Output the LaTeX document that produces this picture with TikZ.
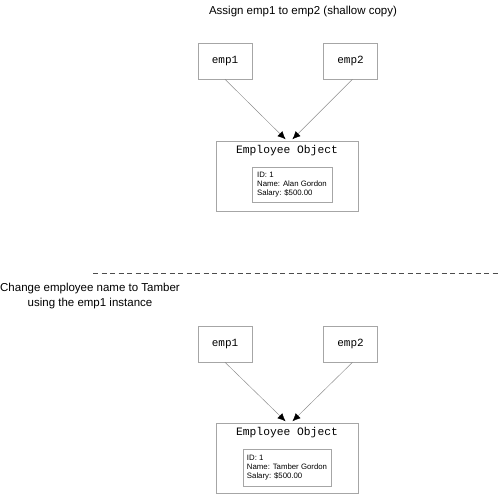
\documentclass[tikz,border=0pt]{standalone}
\usepackage{fontspec}
\setmainfont{Liberation Sans}
\newfontfamily\monof{Liberation Mono}
\usetikzlibrary{arrows.meta}
\begin{document}
\begin{tikzpicture}[x=1pt,y=-1pt,
  varbox/.style={draw=black!35, line width=0.6pt, minimum width=54pt, minimum height=36pt, inner sep=0pt, font=\monof\fontsize{11}{13}\selectfont},
  objbox/.style={draw=black!35, line width=0.6pt, minimum width=142pt, minimum height=70pt, inner sep=0pt},
  databox/.style={draw=black!35, line width=0.6pt, align=left, inner sep=4pt, font=\fontsize{7.8}{9}\selectfont},
  objtitle/.style={font=\monof\fontsize{11.3}{13}\selectfont, inner sep=0pt},
  ptr/.style={draw=black!45, line width=0.45pt, shorten >=2pt, -{Latex[length=8pt,width=7pt,color=black]}},
  caption/.style={font=\fontsize{11.5}{14.5}\selectfont, inner sep=0pt, align=center},
  sep/.style={draw=black!70, dash pattern=on 5pt off 3.5pt, line width=0.6pt}
]
\useasboundingbox (0,0) rectangle (500,494);
% top section
\node[caption] (t1) at (303,12) {Assign emp1 to emp2 (shallow copy)};
\node[varbox] (a1) at (225,61) {emp1};
\node[varbox] (a2) at (350.5,61) {emp2};
\node[objbox] (o1) at (287,176) {};
\node[objtitle] (o1t) at (287,151) {Employee Object};
\node[databox, minimum width=80pt, minimum height=35pt] (d1) at (292,184.5) {ID: 1\\Name: Alan Gordon\\Salary: \$500.00};
\draw[ptr] (a1.south) -- ([xshift=0pt]o1.north);
\draw[ptr] ([xshift=2pt]a2.south) -- ([xshift=4pt]o1.north);
% separator
\coordinate (s1) at (93,273);
\coordinate (s2) at (500,273);
\draw[sep] (s1) -- (s2);
\node[caption] (t2) at (90,296) {Change employee name to Tamber\\using the emp1 instance};
% bottom section
\node[varbox] (b1) at (225,344) {emp1};
\node[varbox] (b2) at (350.5,344) {emp2};
\node[objbox] (o2) at (287,458) {};
\node[objtitle] (o2t) at (287,433) {Employee Object};
\node[databox, minimum width=88pt, minimum height=37pt] (d2) at (287,467.5) {ID: 1\\Name: Tamber Gordon\\Salary: \$500.00};
\draw[ptr] (b1.south) -- ([xshift=0pt]o2.north);
\draw[ptr] ([xshift=2pt]b2.south) -- ([xshift=4pt]o2.north);
\end{tikzpicture}
\end{document}
